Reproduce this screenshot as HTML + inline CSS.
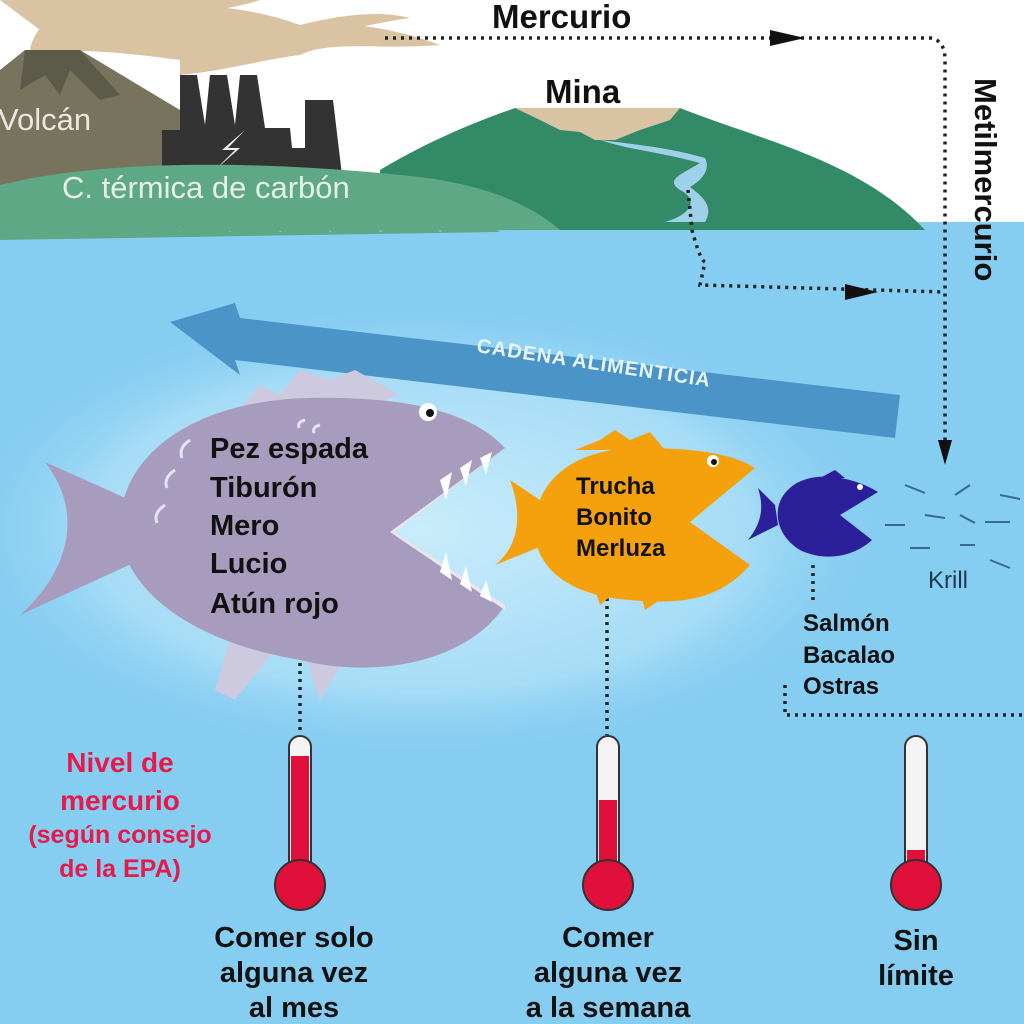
<!DOCTYPE html>
<html><head><meta charset="utf-8"><style>
html,body{margin:0;padding:0;width:1024px;height:1024px;overflow:hidden;background:#fff}
svg{display:block}
text{font-family:"Liberation Sans",sans-serif}
</style></head><body>
<svg width="1024" height="1024" viewBox="0 0 1024 1024">
<defs>
<radialGradient id="glow" cx="0.5" cy="0.5" r="0.5">
<stop offset="0" stop-color="#c9ecfb"/><stop offset="0.7" stop-color="#a6dcf6"/><stop offset="1" stop-color="#86cdf2" stop-opacity="0"/>
</radialGradient>
</defs>
<rect width="1024" height="1024" fill="#fff"/>
<rect x="0" y="222" width="1024" height="802" fill="#86cdf2"/>
<ellipse cx="420" cy="530" rx="470" ry="230" fill="url(#glow)"/>
<!-- smoke -->
<path d="M30,50 C40,0 110,0 140,10 C200,0 260,10 300,25 C350,20 400,30 440,45 C380,50 330,40 300,55 C260,60 230,70 180,75 L180,60 C140,55 110,50 30,50 Z" fill="#d9c3a2"/>
<path d="M0,0 L260,0 C230,10 180,15 150,15 C120,20 80,25 40,30 Z" fill="#d9c3a2"/>
<path d="M300,25 C340,15 380,10 410,18 C380,22 350,30 320,35 Z" fill="#d9c3a2"/>
<!-- volcano -->
<path d="M0,70 L25,50 L80,50 L180,110 L180,190 L0,190 Z" fill="#77735d"/>
<path d="M25,50 L80,50 L120,95 L100,100 L70,70 L60,95 L45,75 L20,90 Z" fill="#5c5b4a"/>
<text x="-2" y="130" font-size="31" fill="#e8e8e0">Volcán</text>
<!-- factory -->
<path d="M162,175 L162,130 L180,130 L180,75 L197,75 L205,125 L210,75 L227,75 L235,125 L240,75 L257,75 L265,128 L290,128 L292,148 L305,148 L305,100 L333,100 L342,175 Z" fill="#333"/>
<path d="M245,130 L222,150 L235,150 L215,170 L240,148 L228,148 Z" fill="#eee"/>
<!-- dark green hill -->
<path d="M380,170 C430,140 480,120 515,108 L680,108 C760,140 860,160 925,230 L380,230 Z" fill="#338a66"/>
<path d="M515,108 L680,108 L670,120 L640,130 L615,140 L595,140 L580,132 L560,130 L540,120 Z" fill="#d9c3a2"/>
<path d="M600,140 C630,150 660,152 700,163 C680,175 665,180 680,190 C700,200 690,215 665,222 L705,222 C715,205 700,195 690,187 C705,178 710,168 705,158 C670,148 640,145 600,140 Z" fill="#9fd0ea"/>
<!-- light green wave -->
<path d="M0,185 C100,160 250,160 400,175 C460,180 520,195 560,230 L0,232 Z" fill="#5fa885"/>
<path d="M0,222 Q30,215 40,232 Q60,210 80,230 Q110,212 130,232 Q160,210 180,232 Q210,215 230,232 Q260,212 280,232 Q310,215 330,232 Q360,212 380,232 Q420,215 440,232 Q470,212 500,232 L0,240 Z" fill="#5fa885"/>
<text x="62" y="198" font-size="31" fill="#e6f0ea">C. térmica de carbón</text>
<text x="545" y="103" font-size="33" font-weight="bold" fill="#111">Mina</text>
<text x="492" y="28" font-size="33" font-weight="bold" fill="#111">Mercurio</text>
<!-- dotted lines -->
<g stroke="#222" stroke-width="3.5" stroke-dasharray="3,5" fill="none">
<path d="M385,38 L930,38 Q945,40 945,60 L945,440"/>
<path d="M688,190 L692,230 Q700,260 705,262 L700,285 L945,292"/>
<path d="M300,655 L300,735"/>
<path d="M607,590 L607,735"/>
<path d="M813,565 L813,600"/>
<path d="M785,685 L785,715 L1024,715"/>
</g>
<path d="M770,30 L805,38 L770,46 Z" fill="#111"/>
<path d="M845,284 L878,292 L845,300 Z" fill="#111"/>
<path d="M938,440 L952,440 L945,465 Z" fill="#111"/>
<text transform="translate(975,78) rotate(90)" font-size="31" font-weight="bold" fill="#111">Metilmercurio</text>
<!-- food chain arrow -->
<path d="M170,322 L235,303 L240,318 L900,395 L895,438 L235,360 L240,375 Z" fill="#4b94c8"/>
<text transform="translate(476,352) rotate(8.5)" font-size="20" fill="#e8f4fb" font-weight="bold" letter-spacing="1">CADENA ALIMENTICIA</text>
<!-- big fish -->
<path d="M130,500 L45,462 C90,520 60,580 20,615 L140,560 Z" fill="#a79cbd"/>
<path d="M230,420 L260,385 L280,395 L300,370 L330,380 L355,370 L400,395 L330,420 Z" fill="#cdc9df"/>
<path d="M230,640 L290,630 L235,700 L215,690 Z" fill="#cdc9df"/>
<path d="M300,640 L350,650 L320,700 Z" fill="#cdc9df"/>
<path d="M505,448 L395,532 L505,605 C470,660 380,680 300,660 C180,640 115,580 120,520 C125,450 200,400 310,398 C400,396 470,410 505,448 Z" fill="#a79cbd"/>
<path d="M505,448 L395,532 L505,605 L505,610 L390,532 Z" fill="#e9e6f0"/>
<g fill="#fff"><path d="M440,480 L446,500 L452,472 Z"/><path d="M460,468 L466,486 L472,460 Z"/><path d="M480,458 L486,474 L492,452 Z"/><path d="M440,572 L446,552 L452,580 Z"/><path d="M460,584 L466,566 L472,592 Z"/><path d="M480,596 L486,580 L492,602 Z"/></g>
<circle cx="428" cy="412" r="9" fill="#fff"/><circle cx="430" cy="413" r="4" fill="#111"/>
<g stroke="#e6e3f0" stroke-width="3" fill="none"><path d="M190,440 q-12,8 -8,18"/><path d="M175,470 q-12,8 -8,18"/><path d="M165,505 q-12,8 -8,18"/><path d="M305,420 q-8,2 -6,8"/><path d="M320,425 q-8,2 -6,8"/></g>
<g font-size="29" font-weight="bold" fill="#111"><text x="210" y="458">Pez espada</text><text x="210" y="497">Tiburón</text><text x="210" y="535">Mero</text><text x="210" y="573">Lucio</text><text x="210" y="613">Atún rojo</text></g>
<!-- orange fish -->
<path d="M540,500 L510,480 C525,520 515,550 495,565 L545,545 Z" fill="#f5a10e"/>
<path d="M575,450 L600,440 L615,430 L630,440 L650,432 L665,450 Z" fill="#f5a10e"/>
<path d="M595,590 L630,580 L600,605 Z" fill="#f5a10e"/>
<path d="M640,590 L660,600 L645,610 Z" fill="#f5a10e"/>
<path d="M755,468 L690,522 L750,565 C720,600 680,605 630,600 C560,595 530,560 535,520 C540,475 580,448 640,448 C700,448 735,455 755,468 Z" fill="#f5a10e"/>
<circle cx="713" cy="461" r="6" fill="#fff"/><circle cx="714" cy="462" r="3" fill="#111"/>
<g font-size="24" font-weight="bold" fill="#111"><text x="576" y="494">Trucha</text><text x="576" y="525">Bonito</text><text x="576" y="556">Merluza</text></g>
<!-- navy fish -->
<path d="M775,505 L758,488 C765,510 760,525 748,540 L778,525 Z" fill="#2b1f9a"/>
<path d="M878,492 L840,515 L872,540 C850,560 820,560 800,550 C775,535 770,505 790,488 C810,470 850,475 878,492 Z" fill="#2b1f9a"/>
<path d="M820,478 L835,470 L845,478 Z" fill="#2b1f9a"/>
<circle cx="860" cy="487" r="3" fill="#fff"/>
<!-- krill -->
<g stroke="#3a6a8a" stroke-width="2"><path d="M905,485 l20,8"/><path d="M955,495 l15,-10"/><path d="M925,515 l20,3"/><path d="M885,525 l20,0"/><path d="M960,515 l15,8"/><path d="M910,548 l20,0"/><path d="M960,545 l15,0"/><path d="M985,522 l25,0"/><path d="M1000,495 l20,4"/><path d="M990,560 l20,8"/></g>
<text x="928" y="588" font-size="24" fill="#1e3a4a">Krill</text>
<g font-size="24" font-weight="bold" fill="#111"><text x="803" y="631">Salmón</text><text x="803" y="663">Bacalao</text><text x="803" y="694">Ostras</text></g>
<!-- label -->
<g font-size="28" font-weight="bold" fill="#e8194a" text-anchor="middle"><text x="120" y="772">Nivel de</text><text x="120" y="810">mercurio</text><text x="120" y="843" font-size="25">(según consejo</text><text x="120" y="877" font-size="25">de la EPA)</text></g>
<!-- thermometers -->
<g stroke="#333" stroke-width="2">
<rect x="289" y="736" width="22" height="140" rx="11" fill="#f4f4f4"/><rect x="291" y="756" width="18" height="120" fill="#e0103a" stroke="none"/><circle cx="300" cy="885" r="25" fill="#e0103a"/>
<rect x="597" y="736" width="22" height="140" rx="11" fill="#f4f4f4"/><rect x="599" y="800" width="18" height="76" fill="#e0103a" stroke="none"/><circle cx="608" cy="885" r="25" fill="#e0103a"/>
<rect x="905" y="736" width="22" height="140" rx="11" fill="#f4f4f4"/><rect x="907" y="850" width="18" height="26" fill="#e0103a" stroke="none"/><circle cx="916" cy="885" r="25" fill="#e0103a"/>
</g>
<g font-size="29" font-weight="bold" fill="#111" text-anchor="middle"><text x="294" y="947">Comer solo</text><text x="294" y="982">alguna vez</text><text x="294" y="1017">al mes</text>
<text x="608" y="947">Comer</text><text x="608" y="982">alguna vez</text><text x="608" y="1017">a la semana</text>
<text x="916" y="950">Sin</text><text x="916" y="985">límite</text></g>
</svg>
</body></html>
